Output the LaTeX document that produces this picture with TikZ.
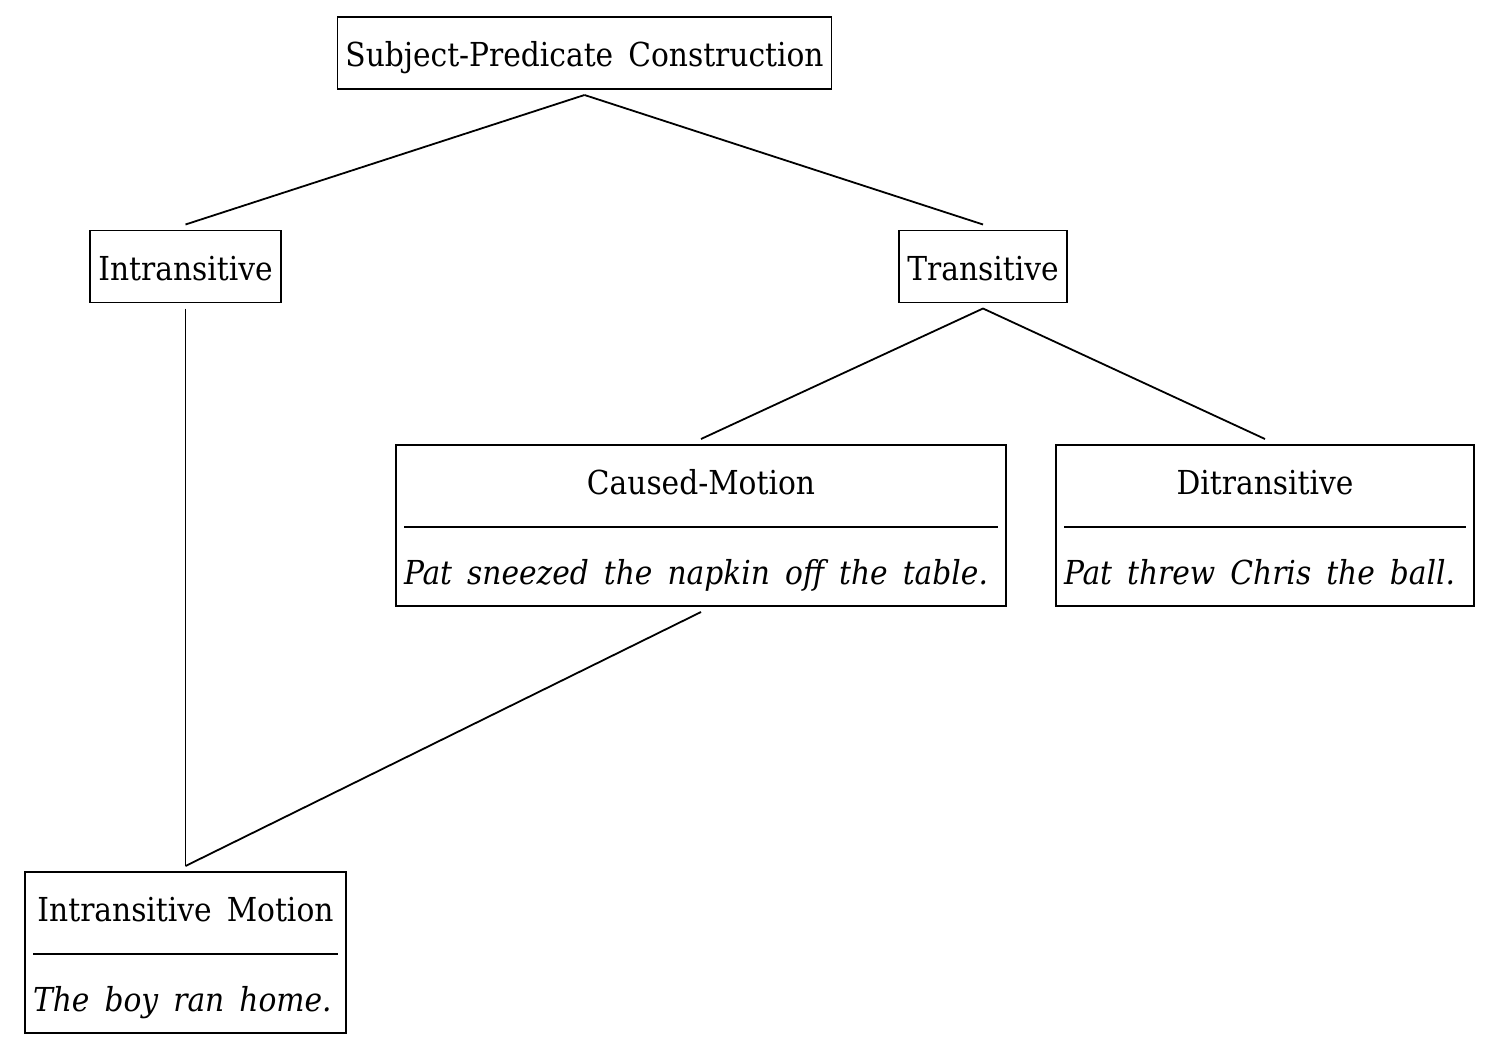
\documentclass[tikz,border=0pt]{standalone}
\usepackage{fontspec}
\setmainfont{DejaVu Serif Condensed}[WordSpace=1.6]
\usetikzlibrary{positioning}
\setlength{\arrayrulewidth}{1.8pt}
\tikzset{
  cxn/.style={draw, line width=1.8pt, inner xsep=8pt, inner ysep=0pt,
    outer sep=6pt, minimum height=72pt, text height=28pt, text depth=0pt,
    font=\fontsize{33}{38}\selectfont},
  cxsplit/.style={cxn, minimum height=161pt, text height=, text depth=},
  link/.style={line width=1.8pt}
}
% split box: width, title, example
\newcommand{\cxcell}[3]{%
  \begin{tabular}{@{}p{#1}@{}}
  \multicolumn{1}{@{}c@{}}{\rule{0pt}{40pt}#2}\\[19.6pt]
  \hline
  \rule{0pt}{57pt}\textit{#3}
  \end{tabular}}

\begin{document}
\begin{tikzpicture}[x=1pt,y=-1pt]
\useasboundingbox (0,0) rectangle (1499,1046);
\node[cxn] (spc) at (584.5,53)  {Subject-Predicate Construction};
\node[cxn] (intr) at (185.5,266.5) {Intransitive};
\node[cxn] (tr) at (983,266.5) {Transitive};
\node[cxsplit] (cm) at (701,525.5) {\cxcell{594pt}{Caused-Motion}{Pat sneezed the napkin off the table.}};
\node[cxsplit] (ditr) at (1265,525.5) {\cxcell{402pt}{Ditransitive}{Pat threw Chris the ball.}};
\node[cxsplit] (im) at (185.5,952.5) {\cxcell{305pt}{Intransitive Motion}{The boy ran home.}};
\draw[link] (spc.south) -- (intr.north);
\draw[link] (spc.south) -- (tr.north);
\draw[link] (tr.south) -- (cm.north);
\draw[link] (tr.south) -- (ditr.north);
\draw[link] (intr.south) -- (im.north);
\draw[link] (cm.south) -- (im.north);
\end{tikzpicture}
\end{document}
